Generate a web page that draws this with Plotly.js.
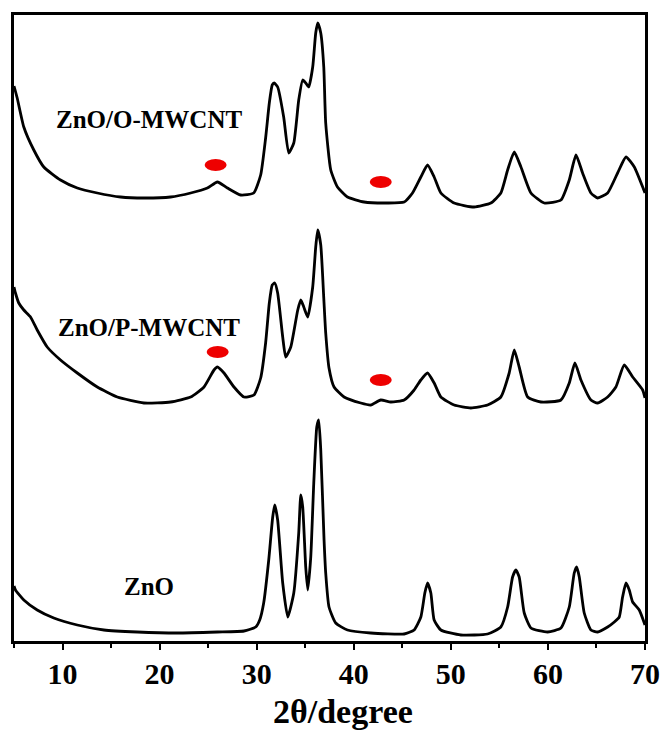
<!DOCTYPE html>
<html><head><meta charset="utf-8">
<script src="https://cdn.plot.ly/plotly-3.0.1.min.js"></script>
<style>html,body{margin:0;padding:0;background:#fff;}#chart{width:665px;height:736px;}</style>
</head><body><div id="chart"></div>
<script>
// ZnO/O-MWCNT (top pattern, offset intensity)
const oX = [5.0,5.33,6.01,7.04,8.07,9.79,11.52,13.58,15.98,18.38,21.13,23.2,24.92,25.95,26.98,28.35,29.69,30.41,30.92,31.3,31.6,31.8,32.16,32.78,33.30,33.82,34.33,34.74,35.05,35.36,35.77,36.08,36.29,36.60,36.91,37.11,37.63,38.32,39.35,41.06,43.47,45.19,46.05,46.91,47.6,48.28,48.97,50.34,52.4,54.12,55.15,55.85,56.53,57.22,58.25,59.62,61.34,62.2,62.89,63.57,64.43,65.12,66.15,67.18,68.04,68.9,69.76,70.0];
const oY = [557,545,516,493,476,463,455,450,446,445,446,450,455,461,455,448,450,468,505,540,558,560,556,526,490,500,543,563,560,556,576,610,620,610,576,520,473,456,446,441,440,441,450,466,478,466,450,440,436,440,450,473,491,476,450,440,443,463,488,470,450,445,450,470,486,476,456,450];

// ZnO/P-MWCNT (middle pattern)
const pX = [5.0,5.15,5.49,6.01,6.70,7.39,8.42,9.79,11.52,13.58,15.64,18.38,21.13,23.2,24.57,25.6,25.95,26.63,27.66,28.69,29.72,30.41,30.92,31.3,31.6,31.86,32.16,32.68,32.99,33.51,34.23,34.54,34.85,35.26,35.77,36.08,36.29,36.6,36.91,37.11,37.45,37.97,39.0,40.72,41.75,42.78,43.81,45.19,46.22,46.91,47.6,48.28,48.97,50.34,52.06,53.78,55.15,56.01,56.53,57.04,57.91,59.28,61.34,62.2,62.78,63.4,64.43,65.12,66.15,67.0,67.86,68.73,69.76,70.0];
const pY = [356,350,340,333,326,313,296,283,270,256,246,240,241,246,256,273,276,270,256,246,248,265,300,340,358,360,350,306,286,296,333,343,336,326,356,396,413,398,345,310,275,256,246,240,238,243,241,243,253,263,270,260,246,238,235,238,246,270,293,276,246,241,243,260,280,263,243,240,246,256,278,266,253,245];

// ZnO (bottom pattern)
const zX = [5.0,5.15,6.01,7.39,9.10,11.52,14.26,17.70,21.82,25.95,28.69,29.90,30.31,30.72,31.24,31.65,31.86,32.16,32.68,33.20,33.82,34.33,34.54,34.74,35.05,35.26,35.57,35.88,36.19,36.39,36.60,36.94,37.11,37.45,38.14,39.35,41.75,45.19,46.22,46.91,47.32,47.6,47.94,48.28,48.97,51.03,53.78,55.15,55.85,56.36,56.7,57.04,57.56,58.25,59.97,61.34,62.2,62.71,62.96,63.23,63.74,64.43,65.12,66.15,66.84,67.35,67.69,68.04,68.38,68.73,69.41,70.0];
const zY = [57,53,43,33,25,18,13,11,10,11,12,16,23,40,83,126,138,123,60,26,50,110,148,136,76,53,86,160,216,223,193,103,70,36,20,13,10,9,13,26,50,60,50,23,13,8,9,16,36,66,73,66,30,15,11,15,36,70,76,66,30,13,11,16,21,26,46,60,53,41,33,18];

// red markers (carbon peak indicators)
const dotX = [25.77, 42.78, 25.98, 42.78];
const dotY = [478, 461, 291, 263];

// labels
const labelText = ["ZnO/O-MWCNT", "ZnO/P-MWCNT", "ZnO"];
const labelX = [18.87, 18.87, 18.87];
const labelY = [524, 316, 57];

const xTicks = [10, 20, 30, 40, 50, 60, 70];
const xTitle = "2θ/degree";

const serif = "Liberation Serif";
const lineStyle = {color: "#000", width: 2.8, shape: "spline", smoothing: 0.5};

const traces = [
  {x: oX, y: oY, mode: "lines", line: lineStyle, hoverinfo: "skip"},
  {x: pX, y: pY, mode: "lines", line: lineStyle, hoverinfo: "skip"},
  {x: zX, y: zY, mode: "lines", line: lineStyle, hoverinfo: "skip"}
];

const shapes = dotX.map((x, i) => ({
  type: "circle", xref: "x", yref: "y",
  xsizemode: "pixel", ysizemode: "pixel",
  xanchor: x, yanchor: dotY[i],
  x0: -11, x1: 11, y0: -6, y1: 6,
  fillcolor: "#ee0000", line: {width: 0}
}));

const annotations = labelText.map((t, i) => ({
  x: labelX[i], y: labelY[i], xref: "x", yref: "y",
  text: "<b>" + t + "</b>", showarrow: false,
  font: {family: serif, size: 25, color: "#000"}
}));
annotations.push({
  x: 0.521, y: -0.112, xref: "paper", yref: "paper",
  xanchor: "center", yanchor: "middle",
  text: "<b>" + xTitle + "</b>", showarrow: false,
  font: {family: serif, size: 34, color: "#000"}
});

const layout = {
  width: 665, height: 736,
  margin: {l: 14, r: 20, t: 15, b: 95},
  paper_bgcolor: "#fff", plot_bgcolor: "#fff",
  showlegend: false,
  font: {family: serif},
  xaxis: {
    range: [5, 70], tickvals: xTicks, ticktext: xTicks.map(v => "<b>" + v + "</b>"),
    ticks: "outside", ticklen: 6, tickwidth: 2, tickcolor: "#000",
    minor: {dtick: 5, tick0: 5, ticks: "outside", ticklen: 4, tickwidth: 2, tickcolor: "#000"},
    showline: true, linecolor: "#000", linewidth: 3, mirror: true,
    showgrid: false, zeroline: false,
    ticklabelstandoff: -2,
    tickfont: {family: serif, size: 30, color: "#000"}
  },
  yaxis: {
    range: [2, 628], showticklabels: false, ticks: "",
    showline: true, linecolor: "#000", linewidth: 3, mirror: true,
    showgrid: false, zeroline: false
  },
  shapes: shapes,
  annotations: annotations
};

Plotly.newPlot("chart", traces, layout, {displayModeBar: false, staticPlot: true});
</script>
</body></html>
